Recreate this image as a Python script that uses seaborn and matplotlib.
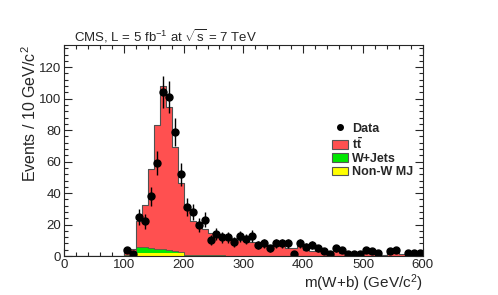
import numpy as np
import seaborn as sns
import matplotlib.pyplot as plt
from matplotlib.patches import Patch
from matplotlib.lines import Line2D
from matplotlib.ticker import MultipleLocator

# bin edges 0..600 GeV in 10 GeV steps; values below listed from 100 GeV upward
edges = np.arange(0, 610, 10)
centers = edges[:-1] + 5

# stacked total (ttbar + W+Jets + Non-W MJ), bins 100-600
total_hi = [4.4, 4.4, 22.5, 32.5, 55.5, 83, 108, 95, 69.5, 46.5,
            32, 22.5, 19, 17.5, 14.5, 13.5, 12.5, 12, 11.5, 10,
            9.5, 9, 8.5, 8, 7, 7, 6.5, 5, 5, 6.5,
            4, 3, 3, 2.5, 2, 5, 2, 1.5, 1.5, 1,
            2, 1.5, 1, 0.8, 2, 2, 1, 0.8, 0.8, 1]
wjets_hi = [0.5, 0.5, 4.0, 4.0, 3.2, 2.6, 2.6, 2.0, 1.5, 0.5,
            0.5, 0.4, 0.4, 0.3, 0.3, 0.3, 0.3, 0.2, 0.2, 0.2] + [0.1] * 30
nonw_hi = [0.3, 0.3, 1.8, 1.8, 1.8, 1.8, 1.8, 1.8, 1.8, 1.8,
           0.3, 0.2, 0.2, 0.2, 0.1, 0.1, 0.1, 0.1, 0.1, 0.1] + [0.05] * 30

# observed counts, bins 100-600 (nan = empty bin)
data_hi = [4, 1, 25, 22, 38, 59, 104, 101, 79, 52,
           31, 28, 20, 23, 10, 14, 12, 12, 9, 12.5,
           11, 12.7, 7, 8, 5, 8, 8, 8, 1, 8,
           6, 7, 5, 3, 1, 5, 4, 1, 1, 1,
           4, 3, 2, np.nan, 3, 4, np.nan, 2, 2, 2]

pad = [0] * 10
total = np.array(pad + total_hi, dtype=float)
wjets = np.array(pad + wjets_hi, dtype=float)
nonw = np.array(pad + nonw_hi, dtype=float)
data = np.array([np.nan] * 10 + data_hi, dtype=float)

sns.set_style("ticks")
plt.rcParams['font.family'] = ['Liberation Sans', 'DejaVu Sans']
plt.rcParams['mathtext.fontset'] = 'custom'
plt.rcParams['mathtext.rm'] = 'Liberation Sans'
plt.rcParams['mathtext.it'] = 'Liberation Sans:italic'
plt.rcParams['mathtext.bf'] = 'Liberation Sans:bold'

fig = plt.figure(figsize=(4.98, 2.95), dpi=100)
ax = fig.add_axes([0.1285, 0.132, 0.7205, 0.715])

colors = {'ttbar': '#ff5050', 'wjets': '#00e600', 'nonw': '#ffff00'}
# stack drawn as overlapping cumulative histograms (tallest first)
layers = [('ttbar', total, 0.8, 1), ('wjets', wjets + nonw, 0.5, 2),
          ('nonw', nonw, 0, 3)]
for name, h, lw, z in layers:
    sns.histplot(x=centers, weights=h, binwidth=10, binrange=(0, 600),
                 element='step', color=colors[name], alpha=1,
                 edgecolor='#505050', linewidth=lw, zorder=z, ax=ax)

ok = ~np.isnan(data)
ax.errorbar(centers[ok], data[ok], yerr=np.sqrt(data[ok]), fmt='o',
            color='black', ms=5, elinewidth=1.0, capsize=0, zorder=5)

ax.set_xlim(0, 600)
ax.set_ylim(0, 134)
ax.xaxis.set_major_locator(MultipleLocator(100))
ax.xaxis.set_minor_locator(MultipleLocator(20))
ax.yaxis.set_major_locator(MultipleLocator(20))
ax.yaxis.set_minor_locator(MultipleLocator(4))
ax.tick_params(which='both', direction='in', top=True, right=True,
               labelsize=9.5, width=0.8, pad=2)
ax.tick_params(which='major', length=6)
ax.tick_params(which='minor', length=3)
for s in ax.spines.values():
    s.set_linewidth(0.8)
    s.set_zorder(6)

ax.set_xlabel('m(W+b) (GeV/c$^{2}$)', fontsize=11, loc='right', labelpad=1)
ax.set_ylabel('Events / 10 GeV/c$^{2}$', fontsize=11.5, loc='top', labelpad=0)

fig.text(0.149, 0.86, r'CMS, L = 5 fb$^{-1}$ at $\sqrt{\rm s}$ = 7 TeV', fontsize=9.5)

handles = [
    Line2D([], [], marker='o', color='black', ls='none', ms=4),
    Patch(facecolor=colors['ttbar'], edgecolor='#555555', lw=0.8),
    Patch(facecolor=colors['wjets'], edgecolor='#555555', lw=0.8),
    Patch(facecolor=colors['nonw'], edgecolor='#555555', lw=0.8),
]
labels = ['Data', r'$\mathbf{t\bar{t}}$', 'W+Jets', 'Non-W MJ']
leg = ax.legend(handles, labels, loc='upper left', bbox_to_anchor=(0.655, 0.605),
                bbox_transform=fig.transFigure, frameon=False,
                prop={'weight': 'bold', 'size': 9}, handlelength=1.25,
                handleheight=0.7, handletextpad=0.35, labelspacing=0.1,
                borderpad=0)

fig.savefig('out.png', dpi=100)
plt.close(fig)
